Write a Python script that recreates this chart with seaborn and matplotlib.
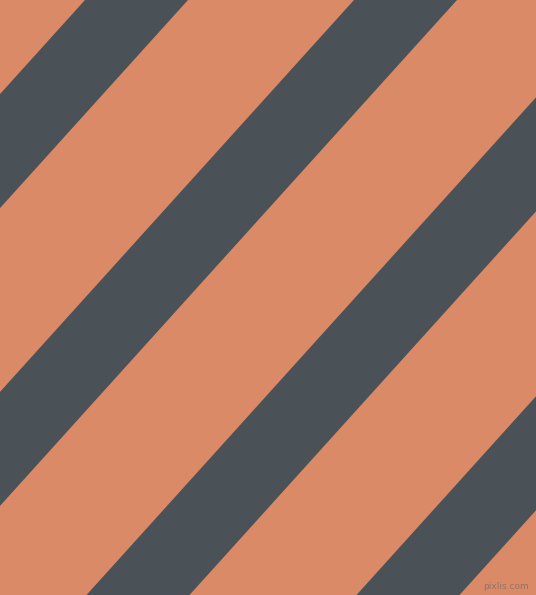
import numpy as np
import matplotlib
matplotlib.use("Agg")
import matplotlib.pyplot as plt
import seaborn as sns

# Stripe data (x-intercepts at the top edge, in pixels)
stripe_starts = [85, 354, 624, 894]
stripe_width = 103
slope = 1.107
background_color = "#DA8A67"
stripe_color = "#4A5257"
watermark = "pixlis.com"

sns.set_theme(style="white")

fig = plt.figure(figsize=(5.36, 5.95), dpi=100)
ax = fig.add_axes([0, 0, 1, 1])
ax.set_facecolor(background_color)
fig.patch.set_facecolor(background_color)

x = np.linspace(-20, 556, 200)
for a in stripe_starts:
    y_top = slope * (a - x)
    y_bot = slope * (a + stripe_width - x)
    ax.fill_between(x, y_top, y_bot, color=stripe_color, linewidth=0)

ax.set_xlim(0, 536)
ax.set_ylim(595, 0)
ax.axis("off")

ax.text(529, 591, watermark, ha="right", va="bottom", fontsize=6.5,
        color="#957462", family="DejaVu Sans")

fig.savefig("out.png", dpi=100, facecolor=background_color)
